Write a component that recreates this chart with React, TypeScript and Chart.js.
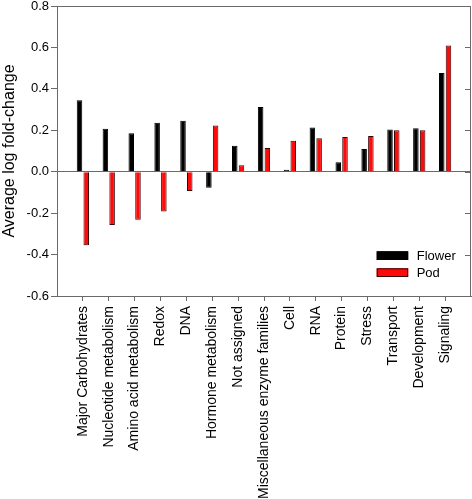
import React, { useEffect, useRef } from 'react';
import { Chart, registerables } from 'chart.js';

Chart.register(...registerables);

const categories = [
  'Major Carbohydrates',
  'Nucleotide metabolism',
  'Amino acid metabolism',
  'Redox',
  'DNA',
  'Hormone metabolism',
  'Not assigned',
  'Miscellaneous enzyme families',
  'Cell',
  'RNA',
  'Protein',
  'Stress',
  'Transport',
  'Development',
  'Signaling',
];

const flowerValues = [0.345, 0.207, 0.186, 0.236, 0.246, -0.078, 0.125, 0.313, 0.01, 0.213, 0.046, 0.11, 0.204, 0.21, 0.477];
const podValues = [-0.355, -0.257, -0.232, -0.192, -0.093, 0.223, 0.031, 0.115, 0.149, 0.162, 0.168, 0.173, 0.2, 0.2, 0.609];

const seriesNames = ['Flower', 'Pod'];
const yMin = -0.6;
const yMax = 0.8;
const yStep = 0.2;
const yTitle = 'Average log fold-change';

const GRAY = '#6a6a6a';
const FONT = '"Liberation Sans", Arial, Helvetica, sans-serif';

const framePlugin = {
  id: 'frameAndLegend',
  afterDraw(chart: any) {
    const { ctx, chartArea } = chart;
    const { left, top, right, bottom } = chartArea;
    const y = chart.scales.y;
    ctx.save();
    ctx.strokeStyle = GRAY;
    ctx.lineWidth = 1;
    ctx.beginPath();
    ctx.moveTo(left, top + 0.5);
    ctx.lineTo(right - 0.5, top + 0.5);
    ctx.lineTo(right - 0.5, bottom);
    y.ticks.forEach((t: any) => {
      const py = Math.round(y.getPixelForValue(t.value)) + 0.5;
      ctx.moveTo(right, py);
      ctx.lineTo(right - 6, py);
    });
    ctx.stroke();

    // legend
    const sw = 31.5;
    const sh = 8.7;
    const x0 = right - 94.3;
    const rowTops = [bottom - 44.7, bottom - 27.7];
    ctx.font = `13px ${FONT}`;
    ctx.textBaseline = 'middle';
    ctx.textAlign = 'left';
    chart.data.datasets.forEach((ds: any, i: number) => {
      const ty = rowTops[i];
      ctx.fillStyle = ds.backgroundColor;
      ctx.fillRect(x0, ty, sw, sh);
      ctx.strokeStyle = ds.borderColor;
      ctx.lineWidth = 1;
      ctx.strokeRect(x0 + 0.5, ty + 0.5, sw - 1, sh - 1);
      ctx.fillStyle = '#000';
      ctx.fillText(ds.label, x0 + 40, ty + sh / 2 + 0.5);
    });
    ctx.restore();
  },
};

export default function App() {
  const canvasRef = useRef<HTMLCanvasElement | null>(null);

  useEffect(() => {
    document.body.style.margin = '0';
    const canvas = canvasRef.current;
    if (!canvas) return;
    Chart.defaults.font.family = FONT;
    Chart.defaults.color = '#000';

    const chart = new Chart(canvas, {
      type: 'bar',
      data: {
        datasets: [
          {
            label: seriesNames[0],
            data: flowerValues.map((v, i) => ({ x: i + 1, y: v })),
            backgroundColor: '#000000',
            borderColor: '#000000',
            borderWidth: 1,
            categoryPercentage: 0.52,
            barPercentage: 0.82,
          },
          {
            label: seriesNames[1],
            data: podValues.map((v, i) => ({ x: i + 1, y: v })),
            backgroundColor: '#ff0a0a',
            borderColor: '#3a0000',
            borderWidth: 1,
            categoryPercentage: 0.52,
            barPercentage: 0.82,
          },
        ],
      },
      options: {
        animation: false,
        responsive: false,
        maintainAspectRatio: false,
        layout: { padding: { left: 0, top: 6, right: 1, bottom: 0 } },
        plugins: {
          legend: { display: false },
          tooltip: { enabled: false },
        },
        scales: {
          x: {
            type: 'linear',
            min: 0,
            max: categories.length + 1,
            offset: false,
            afterBuildTicks: (s: any) => {
              s.ticks = categories.map((_, i) => ({ value: i + 1 }));
            },
            afterFit: (s: any) => {
              s.height = 203;
              s.paddingLeft = 0;
              s.paddingRight = 0;
            },
            ticks: {
              autoSkip: false,
              minRotation: 90,
              maxRotation: 90,
              padding: 5,
              color: '#000',
              font: { size: 14 },
              callback: (v: any) => categories[Number(v) - 1] ?? '',
            },
            grid: {
              drawOnChartArea: false,
              offset: false,
              tickLength: 5,
              tickColor: GRAY,
              color: GRAY,
            },
            border: { display: true, color: GRAY, width: 1 },
          },
          y: {
            type: 'linear',
            min: yMin,
            max: yMax,
            afterFit: (s: any) => {
              s.width = 57;
              s.paddingTop = 0;
              s.paddingBottom = 0;
            },
            ticks: {
              stepSize: yStep,
              padding: 2,
              color: '#000',
              font: { size: 13 },
              callback: (v: any) => Number(v).toFixed(1),
            },
            grid: {
              drawOnChartArea: true,
              color: (c: any) => (c.tick && Math.abs(c.tick.value) < 1e-9 ? GRAY : 'rgba(0,0,0,0)'),
              tickColor: GRAY,
              tickLength: 6,
            },
            border: { display: true, color: GRAY, width: 1 },
            title: {
              display: true,
              text: yTitle,
              color: '#000',
              font: { size: 16 },
              padding: { top: 0, bottom: 0 },
            },
          },
        },
      },
      plugins: [framePlugin],
    } as any);

    return () => chart.destroy();
  }, []);

  return (
    <div style={{ width: 472, height: 499 }}>
      <canvas ref={canvasRef} width={472} height={499} style={{ display: 'block' }} />
    </div>
  );
}
